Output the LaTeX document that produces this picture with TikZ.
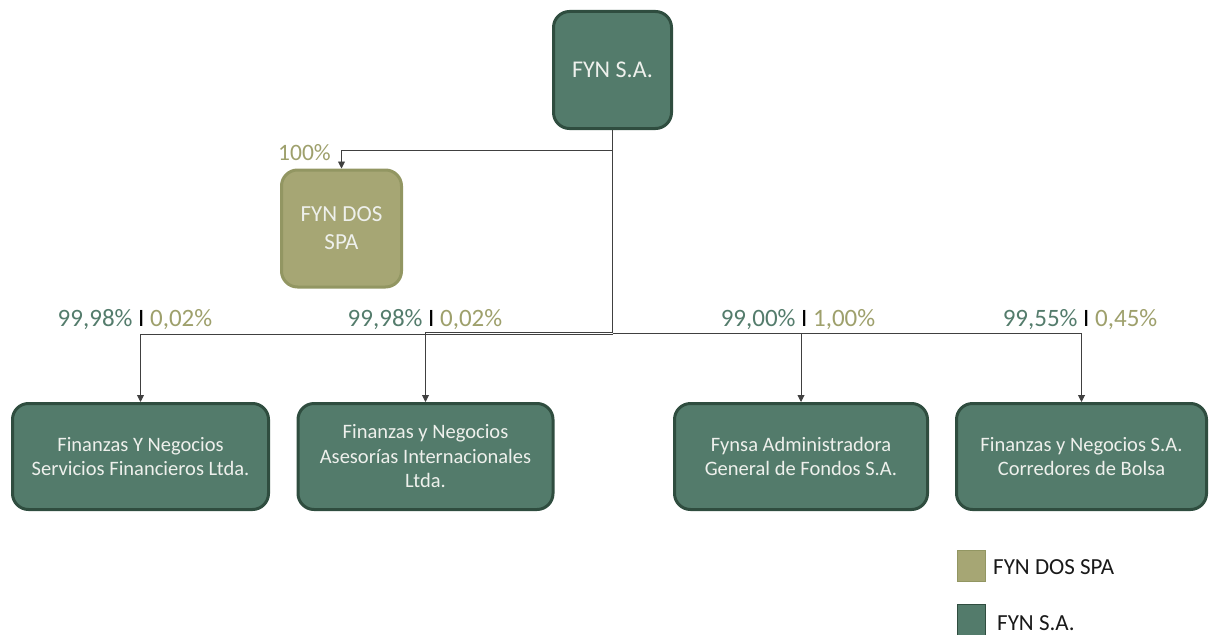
\documentclass[tikz,border=0pt]{standalone}
\usepackage{fontspec}
\setmainfont{Carlito}
\usetikzlibrary{arrows.meta}
\definecolor{dgreen}{RGB}{83,123,107}
\definecolor{dgreenb}{RGB}{47,77,63}
\definecolor{olive}{RGB}{166,166,116}
\definecolor{oliveb}{RGB}{146,150,98}
\definecolor{lgreen}{RGB}{84,124,108}
\definecolor{lolive}{RGB}{158,160,108}
\definecolor{wtext}{RGB}{238,240,236}
\begin{document}
\begin{tikzpicture}[x=1pt,y=-1pt,
  gbox/.style={draw=dgreenb,fill=dgreen,line width=3pt,rounded corners=16pt,
     text=wtext,align=center,font=\fontsize{20.5}{24.5}\selectfont,inner sep=0pt},
  obox/.style={draw=oliveb,fill=olive,line width=3pt,rounded corners=16pt,
     text=wtext,align=center,font=\fontsize{23}{28}\selectfont,inner sep=0pt},
  conn/.style={draw=black!75,line width=0.9pt},
  arr/.style={conn,-{Triangle[length=7pt,width=7pt]}},
  pct/.style={font=\fontsize{25}{28}\selectfont,inner sep=0pt},
  legtxt/.style={font=\fontsize{23}{25}\selectfont,inner sep=0pt,anchor=west,text=black!90}]
\useasboundingbox (0,0) rectangle (1209,634);

\node[gbox,font=\fontsize{24}{28}\selectfont,minimum width=118pt,minimum height=117pt] (fyn) at (612.5,70) {FYN S.A.};
\node[obox,minimum width=120pt,minimum height=117pt] (dos) at (341.5,228.5) {FYN DOS\\SPA};

\node[gbox,minimum width=256pt,minimum height=106pt] (b1) at (140.5,456.5) {Finanzas Y Negocios\\Servicios Financieros Ltda.};
\node[gbox,minimum width=255pt,minimum height=106pt] (b2) at (425.5,456.5) {Finanzas y Negocios\\Asesorías Internacionales\\Ltda.};
\node[gbox,minimum width=253pt,minimum height=106pt] (b3) at (801,456.5) {Fynsa Administradora\\General de Fondos S.A.};
\node[gbox,minimum width=250pt,minimum height=106pt] (b4) at (1081.5,456.5) {Finanzas y Negocios S.A.\\Corredores de Bolsa};

\coordinate (j) at (612.5,333);
\coordinate (k) at (612.5,150);

\draw[conn] (fyn.south) -- (j);
\draw[arr] (k) -| (dos.north);
\draw[arr] ([yshift=-1pt]j) -| (b1.north);
\draw[arr] ([yshift=1pt]j) -| (b2.north);
\draw[arr] (j) -| (b3.north);
\draw[arr] (j) -| (b4.north);

\node[pct,font=\fontsize{23.5}{26}\selectfont,text=lolive,anchor=base west] (p0) at (278,160) {100\%};
\node[pct,anchor=base] (p1) at (135,326) {\textcolor{lgreen}{99,98\%} \textcolor{black}{I} \textcolor{lolive}{0,02\%}};
\node[pct,anchor=base] (p2) at (425,326) {\textcolor{lgreen}{99,98\%} \textcolor{black}{I} \textcolor{lolive}{0,02\%}};
\node[pct,anchor=base] (p3) at (798,326) {\textcolor{lgreen}{99,00\%} \textcolor{black}{I} \textcolor{lolive}{1,00\%}};
\node[pct,anchor=base] (p4) at (1080,326) {\textcolor{lgreen}{99,55\%} \textcolor{black}{I} \textcolor{lolive}{0,45\%}};

\node[fill=olive,draw=oliveb,line width=0.8pt,minimum width=28pt,minimum height=31pt,inner sep=0pt] (l1) at (971,566) {};
\node[fill=dgreen,draw=dgreenb,line width=0.8pt,minimum width=28pt,minimum height=31pt,inner sep=0pt] (l2) at (971,620) {};
\node[legtxt] (t1) at (993,567) {FYN DOS SPA};
\node[legtxt] (t2) at (997,623) {FYN S.A.};
\end{tikzpicture}
\end{document}
